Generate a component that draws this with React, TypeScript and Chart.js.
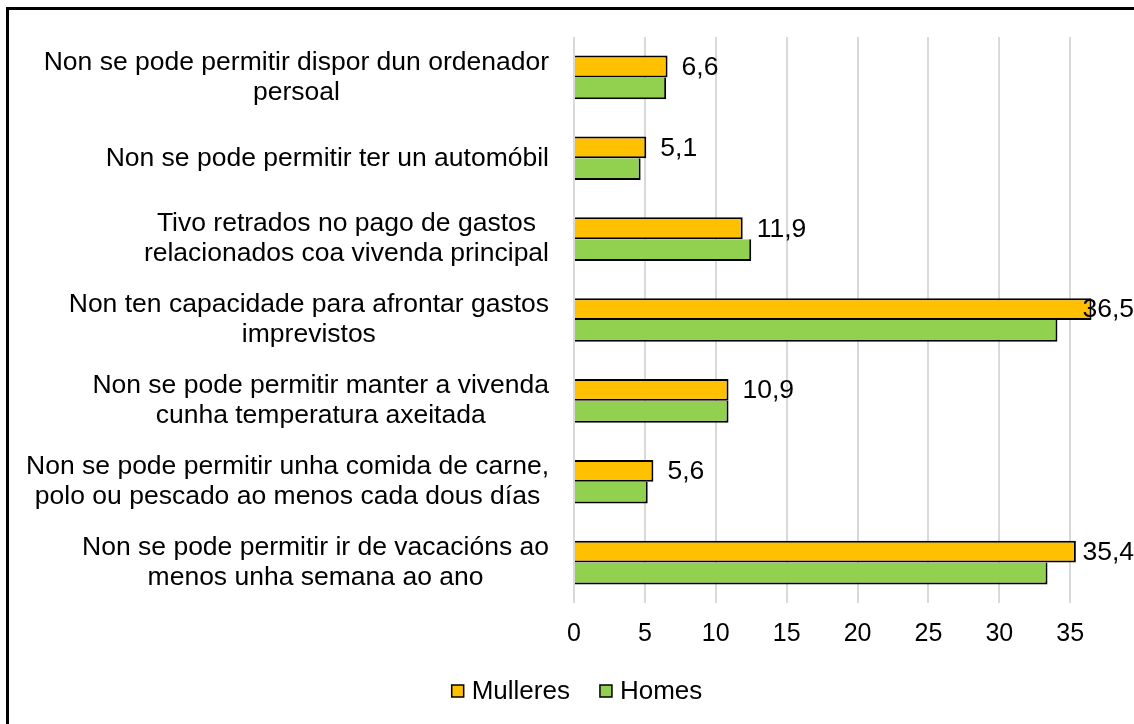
import React, { useEffect, useRef } from "react";
import { Chart, registerables } from "chart.js";

Chart.register(...registerables);

const categories: string[][] = [
  ["Non se pode permitir dispor dun ordenador", "persoal"],
  ["Non se pode permitir ter un automóbil"],
  ["Tivo retrados no pago de gastos", "relacionados coa vivenda principal"],
  ["Non ten capacidade para afrontar gastos", "imprevistos"],
  ["Non se pode permitir manter a vivenda", "cunha temperatura axeitada"],
  ["Non se pode permitir unha comida de carne,", "polo ou pescado ao menos cada dous días"],
  ["Non se pode permitir ir de vacacións ao", "menos unha semana ao ano"],
];
const seriesNames = ["Mulleres", "Homes"];
const mulleres = [6.6, 5.1, 11.9, 36.5, 10.9, 5.6, 35.4];
const homes = [6.5, 4.7, 12.5, 34.1, 10.9, 5.2, 33.4];
const xTicks = [0, 5, 10, 15, 20, 25, 30, 35];
const colors = ["#FFC000", "#92D050"];

const FONT = '"Liberation Sans", Arial, Helvetica, sans-serif';

const customDraw = {
  id: "customDraw",
  afterDraw(chart: any) {
    const ctx: CanvasRenderingContext2D = chart.ctx;
    const yScale = chart.scales.y;
    const area = chart.chartArea;
    ctx.save();
    ctx.fillStyle = "#000";

    // category labels: block right-aligned, lines centered within block
    ctx.font = `26.5px ${FONT}`;
    ctx.textBaseline = "middle";
    ctx.textAlign = "center";
    const rightEdge = area.left - 25;
    const lh = 30;
    (chart.data.labels as string[][]).forEach((lines, i) => {
      const yc = yScale.getPixelForValue(i);
      const widest = Math.max(...lines.map((l) => ctx.measureText(l).width));
      const cx = rightEdge - widest / 2;
      lines.forEach((l, j) => {
        ctx.fillText(l, cx, yc + (j - (lines.length - 1) / 2) * lh);
      });
    });

    // value labels for the first series
    ctx.textAlign = "left";
    const meta = chart.getDatasetMeta(0);
    const limit = chart.width;
    meta.data.forEach((bar: any, i: number) => {
      const v = chart.data.datasets[0].data[i] as number;
      const txt = v.toFixed(1).replace(".", ",");
      const w = ctx.measureText(txt).width;
      const x = Math.min(bar.x + 14, limit - w);
      ctx.fillText(txt, x, bar.y + 1);
    });

    // legend
    ctx.font = `26px ${FONT}`;
    const box = 12;
    const gap = 8;
    const itemGap = 30;
    const items = chart.data.datasets.map((d: any) => ({
      text: d.label as string,
      color: d.backgroundColor as string,
    }));
    const widths = items.map((it: any) => box + gap + ctx.measureText(it.text).width);
    const total = widths.reduce((a: number, b: number) => a + b, 0) + itemGap * (items.length - 1);
    let x = chart.width / 2 + 10 - total / 2;
    const yc = 691;
    items.forEach((it: any, i: number) => {
      ctx.fillStyle = it.color;
      ctx.fillRect(x, yc - box / 2, box, box);
      ctx.strokeStyle = "#000";
      ctx.lineWidth = 1.5;
      ctx.strokeRect(x, yc - box / 2, box, box);
      ctx.fillStyle = "#000";
      ctx.fillText(it.text, x + box + gap, yc + 1);
      x += widths[i] + itemGap;
    });

    ctx.restore();
  },
};

export default function App() {
  const ref = useRef<HTMLCanvasElement>(null);

  useEffect(() => {
    const chart = new Chart(ref.current as HTMLCanvasElement, {
      type: "bar",
      data: {
        labels: categories as any,
        datasets: [
          {
            label: seriesNames[0],
            data: mulleres,
            backgroundColor: colors[0],
            borderColor: "#000",
            borderWidth: { top: 2, right: 2, bottom: 2, left: 0 } as any,
            borderSkipped: false,
          },
          {
            label: seriesNames[1],
            data: homes,
            backgroundColor: colors[1],
            borderColor: "#000",
            borderWidth: { top: 0, right: 2, bottom: 2, left: 0 } as any,
            borderSkipped: false,
          },
        ],
      },
      options: {
        indexAxis: "y",
        responsive: false,
        animation: false,
        events: [],
        layout: { padding: { left: 20, top: 37, right: 0, bottom: 58 } },
        datasets: { bar: { categoryPercentage: 0.54, barPercentage: 1 } },
        plugins: { legend: { display: false }, tooltip: { enabled: false } },
        scales: {
          x: {
            min: 0,
            max: 39.5,
            ticks: {
              stepSize: 5,
              padding: 16,
              color: "#000",
              font: { family: FONT, size: 25 },
              callback: (v: any) => String(v),
            },
            afterBuildTicks: (s: any) => {
              s.ticks = xTicks.map((v) => ({ value: v }));
            },
            afterFit: (s: any) => {
              s.height = 63;
            },
            grid: { color: "#d9d9d9", lineWidth: 2, drawTicks: false },
            border: { display: false },
          },
          y: {
            ticks: { display: false },
            grid: { display: false },
            border: { display: false },
            afterFit: (s: any) => {
              s.width = 554;
            },
          },
        },
      } as any,
      plugins: [customDraw],
    });
    return () => chart.destroy();
  }, []);

  return (
    <div
      style={{
        position: "fixed",
        left: 0,
        top: 0,
        width: 1134,
        height: 724,
        overflow: "hidden",
        background: "#fff",
      }}
    >
      <div
        style={{
          position: "absolute",
          left: 6,
          top: 7,
          width: 1200,
          height: 800,
          border: "3px solid #000",
        }}
      />
      <canvas
        ref={ref}
        width={1134}
        height={724}
        style={{ position: "absolute", left: 0, top: 0 }}
      />
    </div>
  );
}
